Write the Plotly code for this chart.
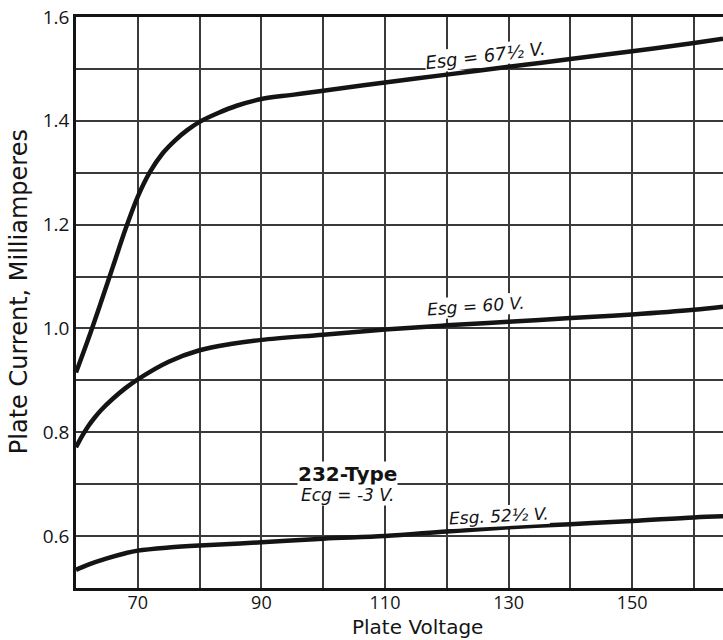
import plotly.graph_objects as go

# Plate voltage (V) and plate current (mA) for three screen-grid voltages
esg675_v = [60, 62, 64, 66, 68, 70, 72, 74, 76, 78, 80, 83, 86, 90, 95, 100, 110, 120, 130, 140, 150, 160, 164.7]
esg675_i = [0.915, 0.980, 1.049, 1.120, 1.191, 1.254, 1.302, 1.337, 1.362, 1.382, 1.398, 1.415, 1.429, 1.442,
            1.450, 1.458, 1.474, 1.489, 1.504, 1.519, 1.534, 1.550, 1.558]

esg60_v = [60, 61, 62, 63, 64, 66, 68, 70, 75, 80, 85, 90, 100, 110, 120, 130, 140, 150, 160, 164.7]
esg60_i = [0.771, 0.793, 0.812, 0.828, 0.842, 0.865, 0.885, 0.902, 0.936, 0.958, 0.970, 0.978, 0.988, 0.998,
           1.006, 1.013, 1.020, 1.027, 1.036, 1.042]

esg525_v = [60, 62, 65, 68, 70, 75, 80, 90, 100, 110, 120, 130, 140, 150, 160, 164.7]
esg525_i = [0.535, 0.545, 0.557, 0.567, 0.572, 0.578, 0.582, 0.588, 0.595, 0.600, 0.609, 0.617, 0.623, 0.629,
            0.636, 0.638]

x_ticks = [70, 90, 110, 130, 150]
y_ticks = [0.6, 0.8, 1.0, 1.2, 1.4, 1.6]
y_tick_text = ["0.6", "0.8", "1.0", "1.2", "1.4", "1.6"]

TICK_FONT = "Liberation Sans Narrow, Open Sans"
LABEL_FONT = "DejaVu Sans"
INK = "#141414"

fig = go.Figure()
for v, i in [(esg675_v, esg675_i), (esg60_v, esg60_i), (esg525_v, esg525_i)]:
    fig.add_trace(go.Scatter(
        x=v, y=i, mode="lines",
        line=dict(color=INK, width=4.5, shape="spline", smoothing=1.0),
        hoverinfo="skip", showlegend=False,
    ))

# curve labels and tube data, each on a white patch over the grid
annotations = [
    dict(x=126.3, y=1.525, text="<i>Esg = 67½ V.</i>", angle=-7, size=18),
    dict(x=124.7, y=1.044, text="<i>Esg = 60 V.</i>", angle=-4, size=17),
    dict(x=128.4, y=0.638, text="<i>Esg. 52½ V.</i>", angle=-3, size=17),
    dict(x=104.0, y=0.720, text="<b>232-Type</b>", angle=0, size=20),
    dict(x=104.0, y=0.680, text="<i>Ecg = -3 V.</i>", angle=0, size=17),
]
for a in annotations:
    fig.add_annotation(
        x=a["x"], y=a["y"], xref="x", yref="y", text=a["text"],
        textangle=a["angle"], showarrow=False,
        font=dict(family=LABEL_FONT, size=a["size"], color=INK),
        bgcolor="white", borderpad=0,
    )

# axis titles
fig.add_annotation(
    x=0, y=0.518, xref="paper", yref="paper", xanchor="center", yanchor="middle",
    text="Plate Current, Milliamperes", textangle=-90, showarrow=False,
    font=dict(family=LABEL_FONT, size=24, color=INK), xshift=-57,
)
fig.add_annotation(
    x=0.5, y=0, xref="paper", yref="paper", xanchor="center", yanchor="middle",
    text="Plate Voltage", showarrow=False, yshift=-39, xshift=18,
    font=dict(family=LABEL_FONT, size=20, color=INK), borderpad=0,
)

fig.update_xaxes(
    range=[60, 164.7], tickvals=x_ticks, ticks="",
    showgrid=False, zeroline=False,
    showline=True, linecolor=INK, linewidth=2.5, mirror=True,
    tickfont=dict(family=TICK_FONT, size=18, color=INK), ticklabelstandoff=-3,
    minor=dict(dtick=10, tick0=60, showgrid=True, gridcolor="#3a3a3a", gridwidth=1.5),
)
fig.update_yaxes(
    range=[0.5, 1.6], tickvals=y_ticks, ticktext=y_tick_text, ticks="",
    showgrid=False, zeroline=False,
    showline=True, linecolor=INK, linewidth=2.5,
    tickfont=dict(family=TICK_FONT, size=19, color=INK),
    minor=dict(dtick=0.1, tick0=0.5, showgrid=True, gridcolor="#3a3a3a", gridwidth=1.5),
)

fig.update_layout(
    width=723, height=640,
    margin=dict(l=76, r=0, t=17, b=52),
    paper_bgcolor="white", plot_bgcolor="white",
    showlegend=False,
)

fig.write_html("out.html")
